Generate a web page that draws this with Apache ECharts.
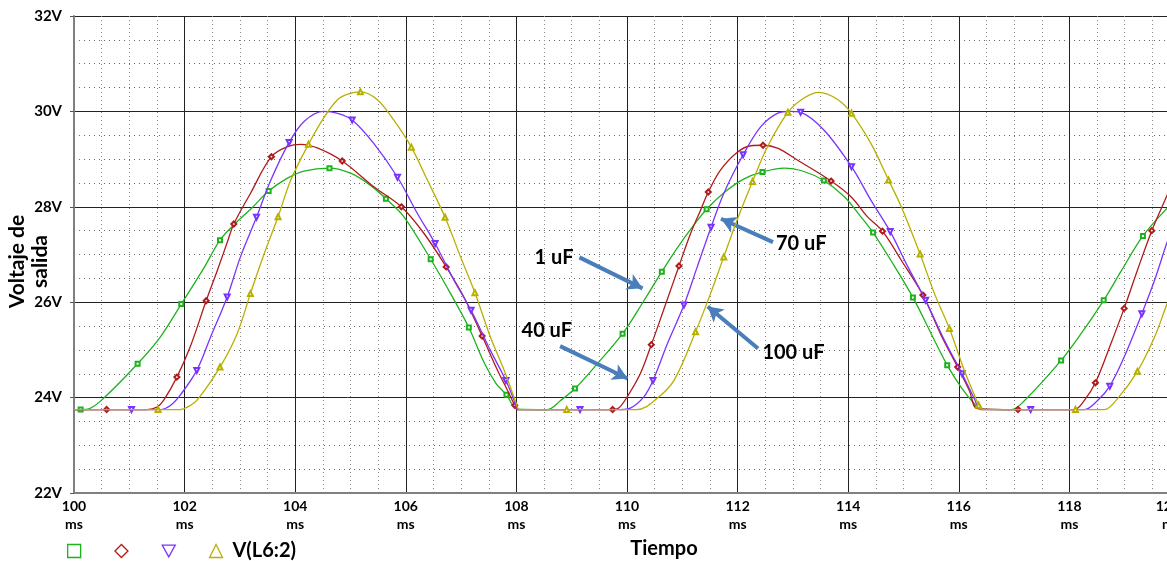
<!DOCTYPE html>
<html>
<head>
<meta charset="utf-8">
<script src="https://cdn.jsdelivr.net/npm/echarts@6/dist/echarts.min.js"></script>
<style>
html,body{margin:0;padding:0;background:#fff;}
#chart{width:1167px;height:561px;}
</style>
</head>
<body>
<div id="chart"></div>
<script>
// ---- data (time in ms, voltage in V) ----
var xTicks = [100, 102, 104, 106, 108, 110, 112, 114, 116, 118, 120];
var yTicks = [22, 24, 26, 28, 30, 32];

var seriesNames = ['1 uF', '40 uF', '70 uF', 'V(L6:2)'];

var c1uF = [[100.0,23.75],[100.12,23.75],[100.28,23.77],[100.53,23.98],[101.15,24.71],[101.56,25.27],[101.94,25.96],[102.35,26.72],[102.64,27.30],[102.89,27.62],[103.22,27.98],[103.52,28.33],[103.86,28.60],[104.16,28.75],[104.62,28.81],[105.01,28.70],[105.35,28.46],[105.64,28.17],[105.96,27.80],[106.45,26.90],[106.81,26.18],[107.14,25.47],[107.41,24.75],[107.63,24.30],[107.82,24.06],[108.02,23.76],[108.56,23.75],[108.80,23.94],[109.06,24.19],[109.41,24.64],[109.92,25.34],[110.30,26.02],[110.63,26.64],[110.91,27.14],[111.21,27.62],[111.44,27.95],[111.78,28.32],[112.11,28.58],[112.45,28.73],[112.84,28.81],[113.20,28.74],[113.56,28.55],[113.93,28.21],[114.23,27.79],[114.45,27.46],[114.77,26.88],[115.17,26.10],[115.50,25.34],[115.79,24.68],[116.04,24.22],[116.28,23.87],[116.40,23.76],[116.95,23.75],[117.19,23.94],[117.85,24.78],[118.21,25.34],[118.62,26.04],[118.93,26.64],[119.33,27.39],[119.78,27.99],[120.0,28.25]];
var c1uFMarks = [100.12,101.15,101.94,102.64,103.52,104.62,105.64,106.45,107.14,107.82,109.06,109.92,110.63,111.44,112.45,113.56,114.45,115.17,115.79,117.85,118.62,119.33];

var c40uF = [[100.0,23.75],[100.59,23.75],[101.32,23.75],[101.50,23.80],[101.62,23.94],[101.86,24.43],[102.10,25.06],[102.39,26.03],[102.59,26.66],[102.77,27.25],[102.89,27.64],[103.19,28.28],[103.57,29.05],[103.86,29.26],[104.10,29.31],[104.41,29.23],[104.85,28.96],[105.42,28.42],[105.92,28.00],[106.33,27.44],[106.73,26.74],[107.05,26.11],[107.38,25.29],[107.66,24.57],[107.84,24.15],[107.97,23.84],[108.02,23.75],[109.74,23.75],[109.85,23.78],[110.00,24.01],[110.24,24.50],[110.44,25.11],[110.66,25.83],[110.94,26.76],[111.15,27.44],[111.33,27.93],[111.47,28.31],[111.69,28.77],[111.99,29.14],[112.24,29.28],[112.46,29.29],[112.72,29.23],[113.08,28.98],[113.69,28.54],[114.05,28.21],[114.35,27.79],[114.62,27.49],[114.96,26.88],[115.35,26.15],[115.68,25.31],[115.98,24.64],[116.19,24.15],[116.34,23.77],[117.07,23.75],[118.09,23.75],[118.27,23.94],[118.47,24.31],[118.75,25.13],[118.99,25.87],[119.23,26.67],[119.49,27.50],[119.78,28.28],[120.0,28.90]];
var c40uFMarks = [100.59,101.86,102.39,102.89,103.57,104.85,105.92,106.73,107.38,107.97,109.74,110.44,110.94,111.47,112.46,113.69,114.62,115.35,115.98,117.07,118.47,118.99,119.49];

var c70uF = [[100.0,23.75],[101.04,23.75],[101.56,23.75],[101.75,23.84],[101.92,24.05],[102.22,24.57],[102.47,25.27],[102.77,26.11],[103.01,26.95],[103.30,27.78],[103.56,28.56],[103.89,29.35],[104.16,29.79],[104.51,30.00],[104.77,29.96],[105.03,29.82],[105.42,29.33],[105.85,28.62],[106.21,27.86],[106.53,27.23],[106.87,26.46],[107.18,25.83],[107.53,24.99],[107.81,24.36],[107.96,23.94],[108.02,23.75],[109.15,23.75],[109.88,23.75],[110.06,23.78],[110.30,24.01],[110.47,24.36],[110.73,25.13],[111.03,25.94],[111.27,26.74],[111.52,27.57],[111.75,28.28],[112.10,29.09],[112.42,29.68],[112.72,29.96],[112.96,30.00],[113.14,29.98],[113.56,29.61],[114.06,28.84],[114.41,28.14],[114.76,27.48],[115.08,26.74],[115.40,26.04],[115.74,25.20],[116.06,24.50],[116.28,23.98],[116.40,23.75],[117.30,23.75],[118.27,23.75],[118.51,23.94],[118.73,24.24],[118.99,24.85],[119.31,25.76],[119.54,26.46],[119.78,27.30],[120.0,27.95]];
var c70uFMarks = [101.04,102.22,102.77,103.30,103.89,105.03,105.85,106.53,107.18,107.81,109.15,110.47,111.03,111.52,112.10,113.14,114.06,114.76,115.40,116.06,117.30,118.73,119.31];

var c100uF = [[100.0,23.75],[101.52,23.75],[101.92,23.75],[102.05,23.80],[102.22,23.94],[102.64,24.64],[102.95,25.34],[103.19,26.18],[103.44,27.02],[103.69,27.79],[103.92,28.56],[104.24,29.31],[104.53,29.89],[104.77,30.25],[104.95,30.36],[105.18,30.41],[105.48,30.25],[105.78,29.82],[106.10,29.25],[106.39,28.56],[106.71,27.78],[106.99,26.95],[107.25,26.20],[107.53,25.27],[107.78,24.57],[108.00,23.87],[108.05,23.75],[108.91,23.75],[110.18,23.75],[110.54,23.98],[110.85,24.36],[111.24,25.38],[111.51,26.18],[111.75,26.95],[111.99,27.72],[112.27,28.53],[112.54,29.26],[112.91,29.98],[113.20,30.28],[113.47,30.40],[113.81,30.25],[114.06,29.96],[114.41,29.33],[114.73,28.56],[114.96,28.00],[115.30,27.01],[115.56,26.18],[115.83,25.45],[116.10,24.57],[116.36,23.84],[116.40,23.75],[118.11,23.75],[118.63,23.75],[118.87,23.98],[119.23,24.55],[119.54,25.27],[119.78,26.01],[120.0,26.60]];
var c100uFMarks = [101.52,102.64,103.19,103.69,104.24,105.18,106.10,106.71,107.25,108.91,111.24,111.75,112.27,112.91,114.06,114.73,115.30,115.83,116.36,118.11,119.23];

// annotation labels and arrows (data coordinates: ms, V)
var annLabels = ['1 uF', '40 uF', '70 uF', '100 uF'];
var annText = [[108.68,26.94],[108.55,25.41],[113.15,27.24],[113.01,24.95]];
var annFrom = [[109.14,26.94],[108.79,25.08],[112.64,27.26],[112.37,25.03]];
var annTo   = [[110.28,26.29],[110.01,24.40],[111.70,27.75],[111.46,25.91]];

// ---- styles ----
var colors = ['#1db31d', '#b01a1a', '#7a33ff', '#b8b000'];
var symbols = ['emptyRect', 'emptyDiamond', 'emptyTriangle', 'emptyTriangle'];
var symbolRot = [0, 0, 180, 0];
var symbolSizes = [4, 5, 5, 5];
var FONT = 'Lato';

function buildData(arr, marks, idx) {
  return arr.map(function (p) {
    var m = marks.indexOf(p[0]) >= 0;
    return {
      value: p,
      symbol: m ? symbols[idx] : 'none',
      symbolSize: m ? symbolSizes[idx] : 0,
      symbolRotate: symbolRot[idx]
    };
  });
}

var allData = [c1uF, c40uF, c70uF, c100uF];
var allMarks = [c1uFMarks, c40uFMarks, c70uFMarks, c100uFMarks];

var series = allData.map(function (arr, i) {
  return {
    name: seriesNames[i],
    type: 'line',
    data: buildData(arr, allMarks[i], i),
    showAllSymbol: true,
    smooth: 0.35,
    lineStyle: { color: colors[i], width: 1.3 },
    itemStyle: { color: colors[i], borderColor: colors[i], borderWidth: 1 },
    emphasis: { disabled: true },
    silent: true,
    z: 3 + i
  };
});

// arrows + labels attached to a helper series
series.push({
  type: 'line',
  name: '__ann',
  data: [],
  silent: true,
  markLine: {
    silent: true,
    symbol: ['none', 'arrow'],
    symbolSize: [13, 15],
    label: { show: false },
    lineStyle: { color: '#4a7ebb', width: 4, type: 'solid' },
    emphasis: { disabled: true },
    data: annFrom.map(function (f, i) {
      return [{ coord: f }, { coord: annTo[i] }];
    })
  },
  markPoint: {
    silent: true,
    symbol: 'rect',
    symbolSize: [1, 1],
    itemStyle: { color: 'rgba(0,0,0,0)' },
    label: {
      show: true, position: 'inside', formatter: '{b}',
      color: '#000', fontFamily: FONT, fontWeight: 'bold', fontSize: 20
    },
    data: annText.map(function (c, i) {
      return { name: annLabels[i], coord: c };
    })
  },
  z: 10
});

var chart = echarts.init(document.getElementById('chart'), null, { renderer: 'canvas' });
chart.setOption({
  animation: false,
  backgroundColor: '#fff',
  grid: { left: 74, top: 16, right: -13, bottom: 68, containLabel: false, outerBoundsMode: 'none' },
  legend: {
    left: 67, top: 541, padding: 0,
    itemWidth: 13, itemHeight: 13, itemGap: 33,
    selectedMode: false,
    formatter: function (n) { return n === 'V(L6:2)' ? ' ' + n : ''; },
    textStyle: { color: '#000', fontFamily: FONT, fontWeight: 'bold', fontSize: 20 },
    data: [
      { name: '1 uF', icon: 'rect', itemStyle: { color: '#fff', borderColor: colors[0], borderWidth: 1.3 } },
      { name: '40 uF', icon: 'diamond', itemStyle: { color: '#fff', borderColor: colors[1], borderWidth: 1.3 } },
      { name: '70 uF', icon: 'path://M0,0L10,0L5,9Z', itemStyle: { color: '#fff', borderColor: colors[2], borderWidth: 1.3 } },
      { name: 'V(L6:2)', icon: 'triangle', itemStyle: { color: '#fff', borderColor: colors[3], borderWidth: 1.3 } }
    ]
  },
  xAxis: {
    type: 'value', min: xTicks[0], max: xTicks[xTicks.length - 1], interval: 2,
    name: 'Tiempo', nameLocation: 'middle', nameGap: 46, nameMoveOverlap: false,
    nameTextStyle: { color: '#000', fontFamily: FONT, fontWeight: 'bold', fontSize: 20, padding: [0, 0, 0, 74] },
    axisLine: { show: true, lineStyle: { color: '#808080', width: 2 } },
    axisTick: { show: false },
    axisLabel: {
      margin: 4, color: '#000', fontFamily: FONT, fontWeight: 'bold', fontSize: 14, lineHeight: 18,
      showMinLabel: true, showMaxLabel: true, hideOverlap: false, alignMaxLabel: 'right',
      formatter: function (v) { return v + '\nms'; }
    },
    splitLine: { show: true, lineStyle: { color: '#222', width: 1 } },
    minorTick: { show: false, splitNumber: 4 },
    minorSplitLine: { show: true, lineStyle: { color: '#888', width: 1, type: [1, 3] } }
  },
  yAxis: {
    type: 'value', min: yTicks[0], max: yTicks[yTicks.length - 1], interval: 2,
    name: 'Voltaje de\nsalida', nameLocation: 'middle', nameGap: 22, nameRotate: 90, nameMoveOverlap: false,
    nameTextStyle: { color: '#000', fontFamily: FONT, fontWeight: 'bold', fontSize: 21, lineHeight: 23, padding: [0, 14, 0, 0] },
    axisLine: { show: true, lineStyle: { color: '#808080', width: 2 } },
    axisTick: { show: true, length: 4, lineStyle: { color: '#555' } },
    axisLabel: {
      margin: 12, color: '#000', fontFamily: FONT, fontWeight: 'bold', fontSize: 15,
      formatter: function (v) { return v + 'V'; }
    },
    splitLine: { show: true, lineStyle: { color: '#222', width: 1 } },
    minorTick: { show: false, splitNumber: 4 },
    minorSplitLine: { show: true, lineStyle: { color: '#666', width: 1, type: [1, 4] } }
  },
  series: series
});
</script>
</body>
</html>
